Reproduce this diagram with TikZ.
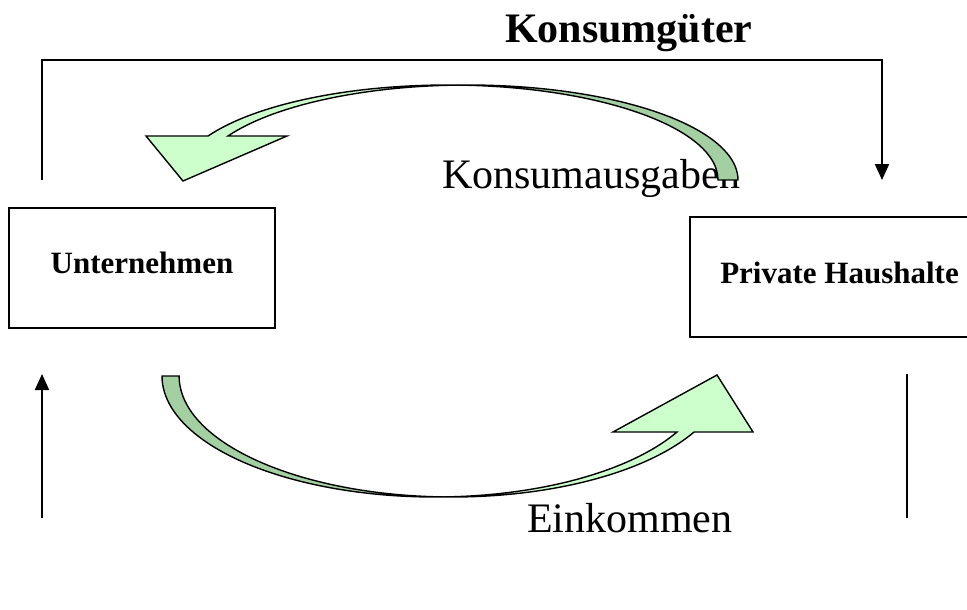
\documentclass[tikz,border=0pt]{standalone}
\usepackage{fontspec}
\setmainfont{Liberation Serif}
\usetikzlibrary{arrows.meta}
\definecolor{frontgreen}{RGB}{204,255,204}
\definecolor{backgreen}{RGB}{163,207,163}
\begin{document}
\begin{tikzpicture}[x=1pt,y=-1pt,
  flowline/.style={draw=black, line width=2pt},
  flowtip/.style={-{Triangle[length=16pt,width=14pt]}},
  ribbon/.style={draw=black, line width=1.4pt, line join=miter},
  frontface/.style={ribbon, fill=frontgreen},
  backface/.style={ribbon, fill=backgreen},
  box/.style={draw=black, line width=1.3pt, rectangle, inner sep=0pt},
  boxtext/.style={font=\fontsize{31}{36}\selectfont\bfseries, inner sep=0pt},
  bigtext/.style={font=\fontsize{42}{50}\selectfont, inner sep=0pt}]
\useasboundingbox (0,0) rectangle (967,610);
\clip (0,0) rectangle (967,610);

% texts
\node[bigtext, font=\fontsize{42}{50}\selectfont\bfseries, anchor=base west] (title) at (505,43) {Konsumgüter};
\node[bigtext, anchor=base west] (spend) at (442,188) {Konsumausgaben};
\node[bigtext, anchor=base west] (income) at (527,532) {Einkommen};

% the two sectors
\node[box, minimum width=266pt, minimum height=120pt] (firms) at (142,268) {};
\node[boxtext, anchor=base] (firmslabel) at (142,273) {Unternehmen};
\node[box, minimum width=300pt, minimum height=120pt] (homes) at (840,277) {};
\node[boxtext, anchor=base] (homeslabel) at (839.5,283) {Private Haushalte};

% goods flow over the top
\coordinate (goodsstart) at (42,180);
\coordinate (goodstop) at (462,60);
\coordinate (goodsend) at (882,180);
\draw[flowline, flowtip] (goodsstart) |- (goodstop) -| (goodsend);

% left and right verticals below the boxes
\coordinate (leftlow) at (42,518);
\coordinate (lefthigh) at (42,374);
\draw[flowline, flowtip] (leftlow) -- (lefthigh);
\coordinate (righthigh) at (907,374);
\coordinate (rightlow) at (907,518);
\draw[flowline] (righthigh) -- (rightlow);

% upper curved arrow: spending flows from households to firms
\path[backface] (457.7,85.06) arc[start angle=-92.1, end angle=0, x radius=270.4, y radius=95]
  -- (718,180) arc[start angle=0, end angle=-87.9, x radius=270.4, y radius=95] -- cycle;
\path[frontface] (457.6,85.07) arc[start angle=-87.9, end angle=-152.4, x radius=270.4, y radius=95]
  -- (146,136) -- (183,181) -- (287,136) -- (228,136)
  arc[start angle=-152.4, end angle=-92.1, x radius=270.4, y radius=95] -- cycle;

% lower curved arrow: income flows from firms to households
\path[backface] (162,376) arc[start angle=180, end angle=88.2, x radius=273, y radius=121]
  arc[start angle=91.8, end angle=180, x radius=273, y radius=121] -- cycle;
\path[frontface] (443.5,496.94) arc[start angle=91.8, end angle=27.57, x radius=273, y radius=121]
  -- (753,432) -- (717,375) -- (613,432) -- (677,432)
  arc[start angle=27.57, end angle=88.2, x radius=273, y radius=121] -- cycle;
\end{tikzpicture}
\end{document}
